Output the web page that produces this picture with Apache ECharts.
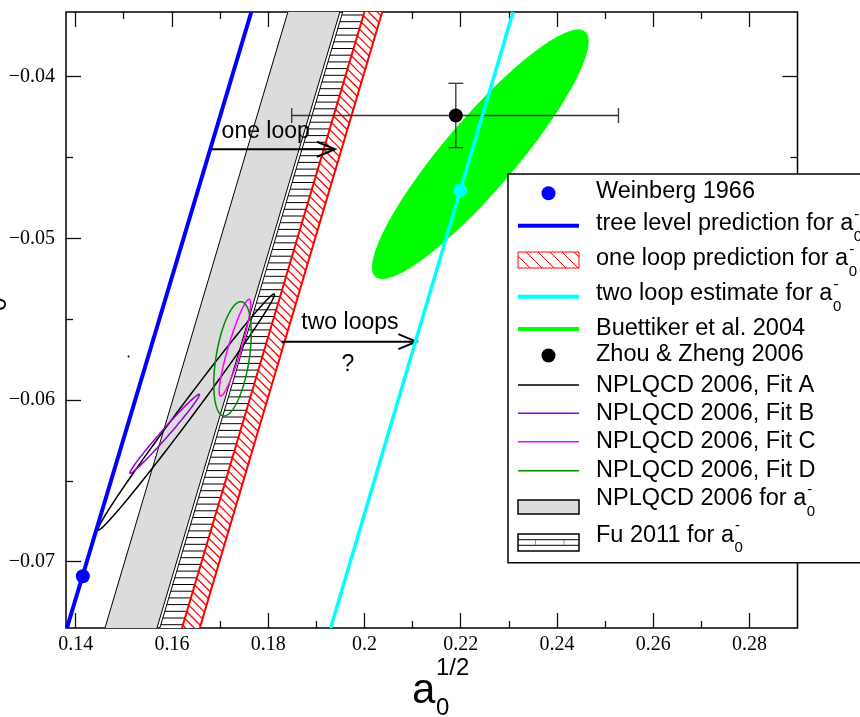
<!DOCTYPE html>
<html>
<head>
<meta charset="utf-8">
<title>a0 1/2 vs a0 3/2</title>
<script src="https://cdn.jsdelivr.net/npm/echarts@6.0.0/dist/echarts.min.js"></script>
<style>
  html, body { margin: 0; padding: 0; background: #fff; }
  #chart { width: 860px; height: 717px; }
</style>
</head>
<body>
<div id="chart"></div>
<script>
// axes
var xRange = [0.138, 0.29];
var yRange = [-0.0741, -0.036];
var xMajorTicks = [0.14, 0.16, 0.18, 0.2, 0.22, 0.24, 0.26, 0.28];
var xMinorTicks = [0.15, 0.17, 0.19, 0.21, 0.23, 0.25, 0.27];
var xTickLabels = ['0.14', '0.16', '0.18', '0.2', '0.22', '0.24', '0.26', '0.28'];
var yMajorTicks = [-0.07, -0.06, -0.05, -0.04];
var yMinorTicks = [-0.065, -0.055, -0.045];
var yTickLabels = ['\u22120.07', '\u22120.06', '\u22120.05', '\u22120.04'];

// points
var weinbergPoint = [[0.1415, -0.0709]];
var twoLoopPoint = [[0.2199, -0.04705]];
var zhouPoint = [[0.2190, -0.0424]];
var zhouXErr = [0.1849, 0.2528];
var zhouYErr = [-0.04439, -0.04041];
var strayPoint = [[0.1510, -0.0573]];

// lines of fixed a0- : bottom end, top end
var treeLevelLine = [[0.1382, -0.0741], [0.1765, -0.036]];
var twoLoopLine = [[0.1930, -0.0741], [0.2309, -0.036]];

// bands: edge = [bottom end, top end]
var nplqcdBandLeft = [[0.1461, -0.0741], [0.1841, -0.036]];
var nplqcdBandRight = [[0.1569, -0.0741], [0.1949, -0.036]];
var fuBandLeft = [[0.1575, -0.0741], [0.1955, -0.036]];
var fuBandRight = [[0.1623, -0.0741], [0.2002, -0.036]];
var oneLoopBandLeft = [[0.1621, -0.0741], [0.2000, -0.036]];
var oneLoopBandRight = [[0.1658, -0.0741], [0.2037, -0.036]];

// ellipses: centre, end of long axis, end of short axis
var buettikerEllipse = [[0.2241, -0.0448], [0.2459, -0.03722], [0.2297, -0.04625]];
var fitAEllipse = [[0.1630, -0.06074], [0.1813, -0.05344], [0.1642, -0.0610]];
var fitBEllipse = [[0.1585, -0.06209], [0.1657, -0.05965], [0.1591, -0.06225]];
var fitCEllipse = [[0.1731, -0.05676], [0.1761, -0.05377], [0.1744, -0.05688]];
var fitDEllipse = [[0.1726, -0.05745], [0.1745, -0.05392], [0.1760, -0.05762]];

// arrows and their notes
var oneLoopArrow = [[0.1683, -0.04449], [0.1939, -0.04449]];
var twoLoopArrow = [[0.1828, -0.05639], [0.2108, -0.05639]];
var noteLabels = ['one loop', 'two loops', '?'];
var notePositions = [[0.1795, -0.0434], [0.1970, -0.0552], [0.1966, -0.0578]];

var SANS = "'Liberation Sans', Arial, Helvetica, sans-serif";
var SERIF = "'Liberation Serif', 'Times New Roman', serif";

var chart = echarts.init(document.getElementById('chart'));
var measureCtx = document.createElement('canvas').getContext('2d');
function textWidth(str, font) {
  measureCtx.font = font;
  return measureCtx.measureText(str).width;
}

function flat(pairs) {
  var out = [];
  pairs.forEach(function (p) { out.push(p[0], p[1]); });
  return out;
}
function xAt(a, b, y) {
  return a[0] + (b[0] - a[0]) * (y - a[1]) / (b[1] - a[1]);
}

function bandSeries(name, left, right, opt) {
  return {
    type: 'custom', name: name, clip: true, silent: true,
    data: [flat(left.concat(right))],
    renderItem: function (params, api) {
      var lb = api.coord([api.value(0), api.value(1)]);
      var lt = api.coord([api.value(2), api.value(3)]);
      var rb = api.coord([api.value(4), api.value(5)]);
      var rt = api.coord([api.value(6), api.value(7)]);
      var kids = [{ type: 'polygon', shape: { points: [lb, lt, rt, rb] }, style: { fill: opt.fill } }];
      var top = Math.min(lt[1], rt[1]), bottom = Math.max(lb[1], rb[1]);
      var y;
      if (opt.hatch === 'h') {
        for (y = top + 3; y < bottom; y += opt.step) {
          kids.push({ type: 'line', shape: { x1: xAt(lb, lt, y), y1: y, x2: xAt(rb, rt, y), y2: y },
            style: { stroke: opt.hatchColor, lineWidth: 1 } });
        }
      } else if (opt.hatch === 'd') {
        var g = (lt[0] - lb[0]) / (lt[1] - lb[1]);
        for (y = top - 30; y < bottom; y += opt.step) {
          var xl = xAt(lb, lt, y);
          var s = (xAt(rb, rt, y) - xl) / (1 - g);
          kids.push({ type: 'line', shape: { x1: xl, y1: y, x2: xl + s, y2: y + s },
            style: { stroke: opt.hatchColor, lineWidth: 1.3 } });
        }
      }
      if (opt.leftEdge) {
        kids.push({ type: 'line', shape: { x1: lb[0], y1: lb[1], x2: lt[0], y2: lt[1] },
          style: { stroke: opt.leftEdge[0], lineWidth: opt.leftEdge[1] } });
      }
      if (opt.rightEdge) {
        kids.push({ type: 'line', shape: { x1: rb[0], y1: rb[1], x2: rt[0], y2: rt[1] },
          style: { stroke: opt.rightEdge[0], lineWidth: opt.rightEdge[1] } });
      }
      return { type: 'group', children: kids };
    }
  };
}

function ellipseSeries(name, e, style) {
  return {
    type: 'custom', name: name, clip: true, silent: true,
    data: [flat(e)],
    renderItem: function (params, api) {
      var c = api.coord([api.value(0), api.value(1)]);
      var t = api.coord([api.value(2), api.value(3)]);
      var m = api.coord([api.value(4), api.value(5)]);
      var ux = t[0] - c[0], uy = t[1] - c[1], vx = m[0] - c[0], vy = m[1] - c[1];
      var pts = [];
      for (var k = 0; k < 120; k++) {
        var a = k / 120 * Math.PI * 2;
        pts.push([c[0] + ux * Math.cos(a) + vx * Math.sin(a), c[1] + uy * Math.cos(a) + vy * Math.sin(a)]);
      }
      return { type: 'polygon', shape: { points: pts }, style: style };
    }
  };
}

function lineSeries(name, pts, color, width) {
  return {
    type: 'line', name: name, data: pts, symbol: 'none', clip: true, silent: true,
    lineStyle: { color: color, width: width }
  };
}

function arrowSeries(name, a) {
  return {
    type: 'custom', name: name, clip: true, silent: true,
    data: [flat(a)],
    renderItem: function (params, api) {
      var p = api.coord([api.value(0), api.value(1)]);
      var q = api.coord([api.value(2), api.value(3)]);
      var st = { stroke: '#000', lineWidth: 2, fill: null };
      return { type: 'group', children: [
        { type: 'line', shape: { x1: p[0], y1: p[1], x2: q[0], y2: q[1] }, style: st },
        { type: 'polyline', shape: { points: [[q[0] - 18, q[1] - 7.5], q, [q[0] - 18, q[1] + 7.5]] }, style: st }
      ] };
    }
  };
}

function dotSeries(name, pts, color, size) {
  return {
    type: 'scatter', name: name, data: pts, symbol: 'circle', symbolSize: size, silent: true,
    itemStyle: { color: color, opacity: 1 }
  };
}

var series = [
  bandSeries('NPLQCD 2006 for a0-', nplqcdBandLeft, nplqcdBandRight,
    { fill: '#dcdcdc', leftEdge: ['#000', 1], rightEdge: ['#000', 1] }),
  bandSeries('Fu 2011 for a0-', fuBandLeft, fuBandRight,
    { fill: '#fff', hatch: 'h', step: 6.7, hatchColor: '#000', leftEdge: ['#000', 1] }),
  bandSeries('one loop prediction for a0-', oneLoopBandLeft, oneLoopBandRight,
    { fill: '#fff', hatch: 'd', step: 6.7, hatchColor: '#ff0000', leftEdge: ['#ff0000', 2], rightEdge: ['#ff0000', 2] }),
  lineSeries('tree level prediction for a0-', treeLevelLine, '#0000ff', 4),
  ellipseSeries('Buettiker et al. 2004', buettikerEllipse, { fill: '#00ff00', stroke: null }),
  lineSeries('two loop estimate for a0-', twoLoopLine, '#00ffff', 3.5),
  ellipseSeries('NPLQCD 2006, Fit A', fitAEllipse, { fill: null, stroke: '#000', lineWidth: 1.5 }),
  ellipseSeries('NPLQCD 2006, Fit B', fitBEllipse, { fill: null, stroke: '#9400d3', lineWidth: 1.5 }),
  ellipseSeries('NPLQCD 2006, Fit C', fitCEllipse, { fill: null, stroke: '#ff00ff', lineWidth: 1.5 }),
  ellipseSeries('NPLQCD 2006, Fit D', fitDEllipse, { fill: null, stroke: '#008b00', lineWidth: 1.5 }),
  arrowSeries('one loop arrow', oneLoopArrow),
  arrowSeries('two loop arrow', twoLoopArrow),
  {
    type: 'custom', name: 'notes', silent: true,
    data: notePositions.map(function (p, i) { return [p[0], p[1], i]; }),
    renderItem: function (params, api) {
      var p = api.coord([api.value(0), api.value(1)]);
      return { type: 'text', x: p[0], y: p[1], style: {
        text: noteLabels[api.value(2)], font: '23px ' + SANS, fill: '#000', align: 'center', verticalAlign: 'middle' } };
    }
  },
  {
    type: 'custom', name: 'Zhou & Zheng 2006 errors', silent: true,
    data: [[zhouPoint[0][0], zhouPoint[0][1], zhouXErr[0], zhouXErr[1], zhouYErr[0], zhouYErr[1]]],
    renderItem: function (params, api) {
      var l = api.coord([api.value(2), api.value(1)]);
      var r = api.coord([api.value(3), api.value(1)]);
      var b = api.coord([api.value(0), api.value(4)]);
      var t = api.coord([api.value(0), api.value(5)]);
      var st = { stroke: '#333', lineWidth: 1.3 };
      function seg(x1, y1, x2, y2) { return { type: 'line', shape: { x1: x1, y1: y1, x2: x2, y2: y2 }, style: st }; }
      return { type: 'group', children: [
        seg(l[0], l[1], r[0], r[1]), seg(b[0], b[1], t[0], t[1]),
        seg(l[0], l[1] - 7.5, l[0], l[1] + 7.5), seg(r[0], r[1] - 7.5, r[0], r[1] + 7.5),
        seg(b[0] - 7.5, b[1], b[0] + 7.5, b[1]), seg(t[0] - 7.5, t[1], t[0] + 7.5, t[1])
      ] };
    }
  },
  dotSeries('Weinberg 1966', weinbergPoint, '#0000ff', 14),
  dotSeries('two loop point', twoLoopPoint, '#00ffff', 14),
  dotSeries('Zhou & Zheng 2006', zhouPoint, '#000', 14),
  dotSeries('stray', strayPoint, '#000', 2)
];

function fmtFrom(ticks, labels) {
  return function (v) {
    for (var i = 0; i < ticks.length; i++) {
      if (Math.abs(ticks[i] - v) < 1e-9) return labels[i];
    }
    return '';
  };
}
function axis(dim, pos, ticks, len, labels) {
  var range = dim === 'x' ? xRange : yRange;
  var a = {
    type: 'value', position: pos, min: range[0], max: range[1],
    axisLine: { show: false }, splitLine: { show: false },
    axisTick: { show: true, inside: true, length: len, customValues: ticks, lineStyle: { color: '#111', width: 1.3 } },
    axisLabel: { show: false }
  };
  if (labels) {
    a.axisLabel = {
      show: true, customValues: ticks, formatter: fmtFrom(ticks, labels),
      fontFamily: SERIF, fontSize: 20, color: '#000', margin: dim === 'x' ? 7 : 11
    };
  }
  return a;
}

// legend, drawn by hand on top of the plot
var legendFont = '23.5px ' + SANS;
var subFont = '15px ' + SANS;
var legendRows = [
  { text: 'Weinberg 1966', base: 199.5, symY: 193.3, sym: 'dot', color: '#0000ff' },
  { text: 'tree level prediction for a', sub: true, base: 231.7, symY: 225.7, sym: 'line', color: '#0000ff', width: 4 },
  { text: 'one loop prediction for a', sub: true, base: 266.7, symY: 260, sym: 'redhatch' },
  { text: 'two loop estimate for a', sub: true, base: 301.7, symY: 296.7, sym: 'line', color: '#00ffff', width: 4 },
  { text: 'Buettiker et al. 2004', base: 336.7, symY: 329, sym: 'line', color: '#00ff00', width: 4 },
  { text: 'Zhou & Zheng 2006', base: 362.7, symY: 355.5, sym: 'dot', color: '#000' },
  { text: 'NPLQCD 2006, Fit A', base: 393.3, symY: 385, sym: 'line', color: '#000', width: 1.5 },
  { text: 'NPLQCD 2006, Fit B', base: 421.7, symY: 413.3, sym: 'line', color: '#9400d3', width: 1.5 },
  { text: 'NPLQCD 2006, Fit C', base: 450, symY: 441.7, sym: 'line', color: '#ff00ff', width: 1.5 },
  { text: 'NPLQCD 2006, Fit D', base: 478.3, symY: 470.7, sym: 'line', color: '#008b00', width: 1.5 },
  { text: 'NPLQCD 2006 for a', sub: true, base: 506.7, symY: 507, sym: 'gray' },
  { text: 'Fu 2011 for a', sub: true, base: 543.3, symY: 542.5, sym: 'fu' }
];
var LX1 = 518, LX2 = 579, TX = 596;
var graphics = [{
  type: 'rect', z: 100, shape: { x: 508, y: 174, width: 420, height: 388.7 },
  style: { fill: '#fff', stroke: '#000', lineWidth: 1.5 }
}];
function gline(x1, y1, x2, y2, color, w) {
  return { type: 'line', z: 101, shape: { x1: x1, y1: y1, x2: x2, y2: y2 }, style: { stroke: color, lineWidth: w } };
}
function gtext(str, x, y, font) {
  return { type: 'text', z: 102, x: x, y: y, style: { text: str, font: font, fill: '#000', align: 'left', verticalAlign: 'middle' } };
}
legendRows.forEach(function (r) {
  var y = r.symY, h, k;
  if (r.sym === 'dot') {
    graphics.push({ type: 'circle', z: 101, shape: { cx: (LX1 + LX2) / 2, cy: y, r: 7 }, style: { fill: r.color } });
  } else if (r.sym === 'line') {
    graphics.push(gline(LX1, y, LX2, y, r.color, r.width));
  } else if (r.sym === 'redhatch') {
    h = 16;
    graphics.push({ type: 'rect', z: 101, shape: { x: LX1, y: y - h / 2, width: LX2 - LX1, height: h }, style: { fill: '#fff', stroke: '#ff0000', lineWidth: 1 } });
    for (k = LX1 - h; k < LX2; k += 12) {
      var t0 = Math.max(0, LX1 - k), t1 = Math.min(h, LX2 - k);
      if (t1 > t0) graphics.push(gline(k + t0, y - h / 2 + t0, k + t1, y - h / 2 + t1, '#ff0000', 1));
    }
  } else if (r.sym === 'gray') {
    graphics.push({ type: 'rect', z: 101, shape: { x: LX1, y: y - 7, width: LX2 - LX1, height: 14 }, style: { fill: '#dcdcdc', stroke: '#000', lineWidth: 1.5 } });
  } else if (r.sym === 'fu') {
    graphics.push({ type: 'rect', z: 101, shape: { x: LX1, y: y - 8.5, width: LX2 - LX1, height: 17 }, style: { fill: '#fff', stroke: '#000', lineWidth: 1.5 } });
    graphics.push(gline(LX1, y - 2.8, LX2, y - 2.8, '#000', 1));
    graphics.push(gline(LX1, y + 2.8, LX2, y + 2.8, '#000', 1));
    graphics.push(gline(535.5, y - 2.8, 535.5, y + 2.8, '#777', 0.8));
    graphics.push(gline(564, y - 2.8, 564, y + 2.8, '#777', 0.8));
  }
  graphics.push(gtext(r.text, TX, r.base - 8, legendFont));
  if (r.sub) {
    var w = textWidth(r.text, legendFont);
    graphics.push(gtext('-', TX + w + 1, r.base - 17, subFont));
    graphics.push(gtext('0', TX + w + 0.5, r.base + 5, subFont));
  }
});

// axis titles: a0^(1/2) below, a0^(3/2) rotated at the left, mostly outside the page
graphics.push(gtext('a', 412, 691.3, '42px ' + SANS));
graphics.push(gtext('1/2', 436, 668.6, '24px ' + SANS));
graphics.push(gtext('0', 436, 708.6, '24px ' + SANS));
graphics.push({
  type: 'group', z: 102, x: -17.7, y: 334.4, rotation: Math.PI / 2,
  children: [
    gtext('a', 0, 0, '42px ' + SANS),
    gtext('0', 23.4, 17.3, '24px ' + SANS),
    gtext('3/2', 23.4, -22.7, '24px ' + SANS)
  ]
});

chart.setOption({
  animation: false,
  backgroundColor: '#fff',
  grid: { show: true, left: 66, right: 62.5, top: 12, bottom: 89, borderColor: '#000', borderWidth: 1.5,
    backgroundColor: 'transparent', containLabel: false, outerBoundsMode: 'none' },
  xAxis: [
    axis('x', 'bottom', xMajorTicks, 15, xTickLabels),
    axis('x', 'bottom', xMinorTicks, 7),
    axis('x', 'top', xMajorTicks, 15),
    axis('x', 'top', xMinorTicks, 7)
  ],
  yAxis: [
    axis('y', 'left', yMajorTicks, 15, yTickLabels),
    axis('y', 'left', yMinorTicks, 7),
    axis('y', 'right', yMajorTicks, 15),
    axis('y', 'right', yMinorTicks, 7)
  ],
  series: series,
  graphic: graphics
});
</script>
</body>
</html>
